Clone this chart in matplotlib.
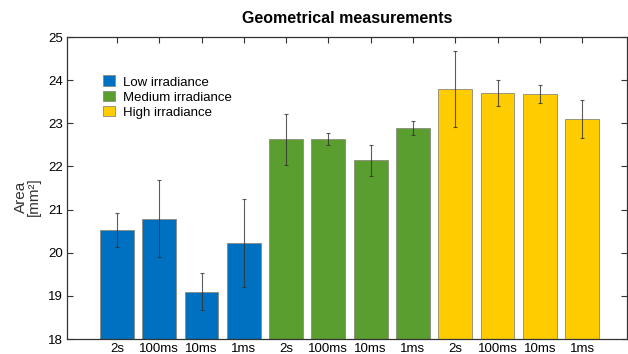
import matplotlib
matplotlib.use("Agg")
import matplotlib.pyplot as plt
from matplotlib.patches import Patch
import numpy as np

plt.rcParams['font.family'] = ['Liberation Sans', 'DejaVu Sans']

tick_labels = ["2s", "100ms", "10ms", "1ms"] * 3
groups = ["Low irradiance", "Medium irradiance", "High irradiance"]
low_vals = [20.53, 20.79, 19.10, 20.22]
low_err = [0.39, 0.89, 0.43, 1.02]
med_vals = [22.63, 22.63, 22.14, 22.90]
med_err = [0.59, 0.14, 0.36, 0.16]
high_vals = [23.79, 23.71, 23.68, 23.10]
high_err = [0.88, 0.30, 0.21, 0.44]
colors = ["#0070C0", "#5A9E2F", "#FFCC00"]

fig = plt.figure(figsize=(6.28, 3.54), dpi=100)
ax = fig.add_axes([67/628, 15/354, 560/628, 302/354])

series = [low_vals, med_vals, high_vals]
errs = [low_err, med_err, high_err]
pos = 1
for vals, er, c in zip(series, errs, colors):
    x = np.arange(pos, pos + len(vals))
    ax.bar(x, vals, width=0.8, color=c, edgecolor='#8a8a7a', linewidth=0.6, zorder=2)
    ax.errorbar(x, vals, yerr=er, fmt='none', ecolor='#333333', elinewidth=0.8,
                capsize=1.5, capthick=0.8, alpha=0.8, zorder=3)
    pos += len(vals)

n = len(tick_labels)
ax.set_xlim(-0.18, 13.06)
ax.set_ylim(18, 25)
ax.set_xticks(np.arange(1, n + 1))
ax.set_xticklabels(tick_labels, fontsize=9.5)
ax.set_yticks(np.arange(18, 26))
ax.tick_params(axis='both', direction='in', length=4, width=0.8, color='#333333',
               labelsize=9.5, top=True, right=True, pad=3)
for s in ax.spines.values():
    s.set_linewidth(0.9)
    s.set_color('#333333')

ax.set_title("Geometrical measurements", fontsize=11.5, fontweight='bold', pad=10)
ax.set_ylabel("Area\n[mm²]", fontsize=11, color='#333333', linespacing=0.9)
ax.yaxis.set_label_coords(-0.046, 0.47)

handles = [Patch(facecolor=c, edgecolor='#8a8a7a', linewidth=0.6) for c in colors]
ax.legend(handles, groups, loc='upper left', bbox_to_anchor=(0.055, 0.89), frameon=False,
          fontsize=9.5, handlelength=0.9, handleheight=0.9, handletextpad=0.6,
          labelspacing=0.15, borderaxespad=0)

fig.savefig("out.png", dpi=100)
